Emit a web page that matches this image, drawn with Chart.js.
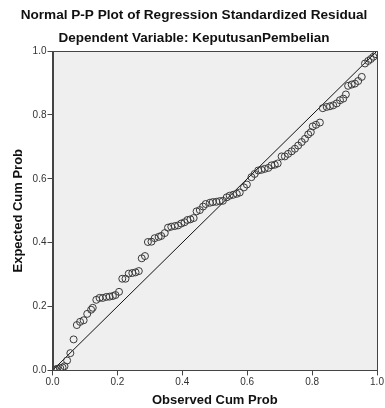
<!DOCTYPE html>
<html>
<head>
<meta charset="utf-8">
<script src="https://cdn.jsdelivr.net/npm/chart.js@4.4.1/dist/chart.umd.min.js"></script>
<style>
  html, body { margin: 0; padding: 0; background: #fff; }
  #wrap { width: 385px; height: 408px; position: relative; }
</style>
</head>
<body>
<div id="wrap"><canvas id="ppChart"></canvas></div>
<script>
// Observed vs expected cumulative probability
const observedCumProb = [
  0.003, 0.009, 0.015, 0.024, 0.031, 0.037, 0.045, 0.055, 0.065, 0.075,
  0.085, 0.096, 0.107, 0.119, 0.124, 0.135, 0.145, 0.155, 0.166, 0.176,
  0.186, 0.194, 0.205, 0.215, 0.225, 0.235, 0.246, 0.256, 0.266, 0.275,
  0.285, 0.294, 0.305, 0.315, 0.327, 0.335, 0.346, 0.356, 0.366, 0.377,
  0.387, 0.397, 0.407, 0.416, 0.425, 0.435, 0.444, 0.454, 0.464, 0.472,
  0.485, 0.494, 0.505, 0.515, 0.525, 0.537, 0.546, 0.557, 0.568, 0.577,
  0.590, 0.599, 0.613, 0.623, 0.634, 0.644, 0.654, 0.665, 0.675, 0.685,
  0.694, 0.706, 0.716, 0.726, 0.737, 0.747, 0.757, 0.768, 0.778, 0.788,
  0.796, 0.802, 0.812, 0.824, 0.833, 0.845, 0.855, 0.865, 0.876, 0.886,
  0.896, 0.904, 0.911, 0.922, 0.932, 0.942, 0.953, 0.963, 0.973, 0.981,
  0.989, 0.997
];
const expectedCumProb = [
  0.002, 0.003, 0.005, 0.007, 0.009, 0.013, 0.031, 0.054, 0.097, 0.142,
  0.152, 0.157, 0.177, 0.190, 0.196, 0.221, 0.227, 0.227, 0.230, 0.231,
  0.233, 0.236, 0.246, 0.287, 0.287, 0.303, 0.305, 0.307, 0.311, 0.351,
  0.358, 0.402, 0.403, 0.414, 0.418, 0.421, 0.430, 0.447, 0.450, 0.452,
  0.454, 0.460, 0.464, 0.471, 0.473, 0.477, 0.498, 0.502, 0.513, 0.521,
  0.525, 0.527, 0.528, 0.530, 0.531, 0.542, 0.547, 0.550, 0.553, 0.557,
  0.573, 0.582, 0.605, 0.615, 0.626, 0.628, 0.631, 0.634, 0.642, 0.644,
  0.648, 0.670, 0.670, 0.678, 0.686, 0.694, 0.704, 0.715, 0.725, 0.739,
  0.746, 0.764, 0.769, 0.776, 0.821, 0.825, 0.827, 0.830, 0.836, 0.846,
  0.851, 0.864, 0.891, 0.895, 0.898, 0.906, 0.919, 0.961, 0.969, 0.975,
  0.982, 0.990
];
const referenceLine = [0, 1];
const tickValues = [0, 0.2, 0.4, 0.6, 0.8, 1.0];

const points = observedCumProb.map((x, i) => ({ x: x, y: expectedCumProb[i] }));
const diagonal = referenceLine.map(v => ({ x: v, y: v }));

// plot background + closing frame on top/right
const frame = {
  id: 'frame',
  beforeDraw(chart) {
    const { ctx, chartArea: a } = chart;
    ctx.save();
    ctx.fillStyle = '#efefef';
    ctx.fillRect(a.left, a.top, a.right - a.left, a.bottom - a.top);
    ctx.restore();
  },
  afterDraw(chart) {
    const { ctx, chartArea: a } = chart;
    ctx.save();
    ctx.strokeStyle = '#444';
    ctx.lineWidth = 1;
    ctx.strokeRect(Math.round(a.left) + 0.5, Math.round(a.top) + 0.5,
      Math.round(a.right - a.left), Math.round(a.bottom - a.top));
    ctx.restore();
  }
};

const fam = 'Liberation Sans, Arial, sans-serif';
const tickFont = { family: fam, size: 10 };
const axisTitleFont = { family: fam, size: 13, weight: 'bold' };

new Chart(document.getElementById('ppChart'), {
  type: 'scatter',
  data: {
    datasets: [
      {
        data: points,
        pointStyle: 'circle',
        pointRadius: 3.5,
        pointBorderWidth: 1,
        pointBorderColor: '#3a3a3a',
        pointBackgroundColor: 'rgba(0,0,0,0)',
        showLine: false
      },
      {
        data: diagonal,
        showLine: true,
        borderColor: '#111',
        borderWidth: 1,
        pointRadius: 0
      }
    ]
  },
  options: {
    responsive: true,
    maintainAspectRatio: false,
    animation: false,
    layout: { padding: { left: 11, right: 8, bottom: 0 } },
    plugins: {
      legend: { display: false },
      tooltip: { enabled: false },
      title: {
        display: true,
        text: 'Normal P-P Plot of Regression Standardized Residual',
        color: '#111',
        font: { family: fam, size: 13.6, weight: 'bold' },
        padding: { top: 7, bottom: 7 }
      },
      subtitle: {
        display: true,
        text: 'Dependent Variable: KeputusanPembelian',
        color: '#111',
        font: { family: fam, size: 13.5, weight: 'bold' },
        padding: { top: 0, bottom: 4.5 }
      }
    },
    scales: {
      x: {
        type: 'linear',
        min: 0, max: 1,
        afterBuildTicks: s => { s.ticks = tickValues.map(v => ({ value: v })); },
        ticks: { font: tickFont, color: '#333', padding: 1, callback: v => v.toFixed(1) },
        grid: { display: true, drawOnChartArea: false, drawTicks: true, tickLength: 5, color: '#444' },
        border: { display: true, color: '#444' },
        title: { display: true, text: 'Observed Cum Prob', color: '#111', font: axisTitleFont, padding: { top: 3, bottom: 0 } }
      },
      y: {
        type: 'linear',
        min: 0, max: 1,
        afterBuildTicks: s => { s.ticks = tickValues.map(v => ({ value: v })); },
        ticks: { font: tickFont, color: '#333', padding: 1, callback: v => v.toFixed(1) },
        grid: { display: true, drawOnChartArea: false, drawTicks: true, tickLength: 5, color: '#444' },
        border: { display: true, color: '#444' },
        title: { display: true, text: 'Expected Cum Prob', color: '#111', font: axisTitleFont, padding: { top: 0, bottom: 5 } }
      }
    }
  },
  plugins: [frame]
});
</script>
</body>
</html>
